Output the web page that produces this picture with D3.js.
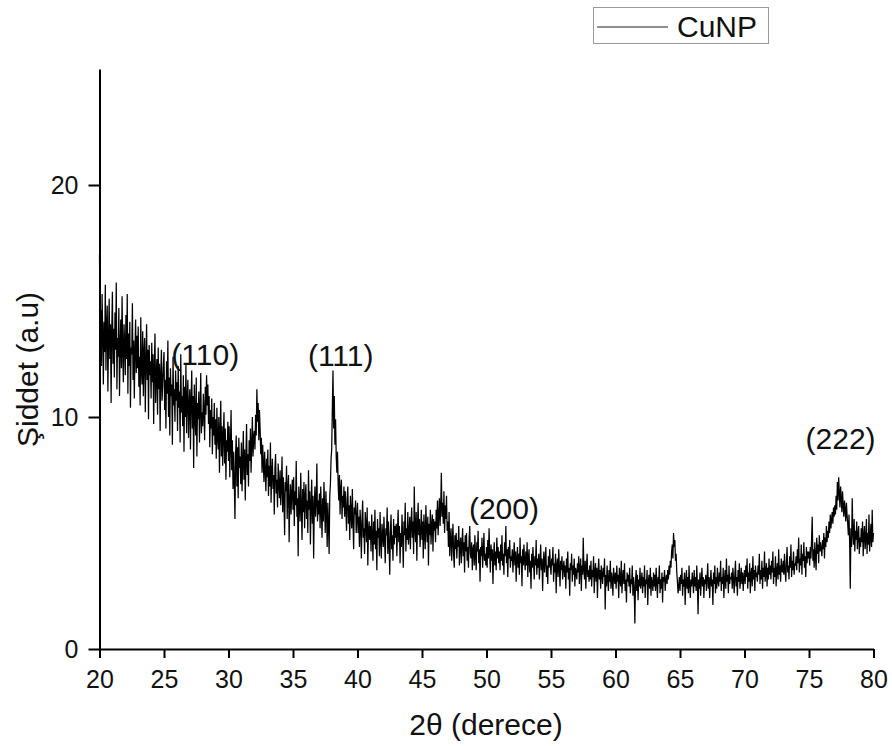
<!DOCTYPE html>
<html>
<head>
<meta charset="utf-8">
<script src="https://cdn.jsdelivr.net/npm/d3@7"></script>
<style>
  body { margin: 0; background: #fff; }
  svg text { font-family: "Liberation Sans", Arial, sans-serif; }
</style>
</head>
<body>
<div id="chart"></div>
<script>
// XRD scan, 2theta from 20 to 80, step 0.05 degree
const startAngle = 20, stepAngle = 0.05;

// intensity readings, one row per degree (20 readings each)
const seg20 = [
  17.0, 13.1, 14.6, 12.2, 15.3, 13.6, 11.4, 14.1, 12.8, 15.7, 12.0, 13.9, 14.8, 11.1, 13.3, 15.1, 12.5, 14.0, 10.6, 13.7,
  15.4, 12.3, 13.8, 11.7, 14.5, 12.9, 15.8, 11.2, 13.4, 12.6, 14.7, 10.9, 13.0, 14.2, 12.1, 15.2, 12.8, 11.5, 14.0, 13.2,
  11.8, 14.4, 12.5, 15.3, 11.0, 13.6, 12.2, 14.1, 10.4, 13.0, 12.7, 14.9, 11.6, 13.3, 10.8, 12.9, 14.2, 11.9, 13.5, 12.1,
  13.9, 11.3, 12.6, 10.5, 14.3, 12.0, 11.4, 13.7, 10.9, 12.8, 13.4, 10.2, 12.3, 14.0, 11.6, 12.9, 9.9, 13.1, 11.8, 12.4,
  10.8, 13.2, 11.5, 12.7, 9.7, 12.1, 13.6, 10.6, 11.9, 12.5, 10.1, 13.0, 11.2, 12.3, 9.4, 11.8, 12.9, 10.7, 11.4, 12.2,
  12.8, 10.3, 11.6, 9.5, 12.4, 11.0, 13.3, 10.0, 11.7, 9.2, 12.1, 10.9, 11.4, 8.8, 12.6, 10.5, 11.2, 9.8, 12.0, 10.7,
  11.5, 9.4, 12.2, 10.4, 11.1, 8.9, 12.7, 10.2, 10.9, 9.6, 11.8, 8.5, 11.3, 10.0, 12.3, 9.3, 10.8, 11.6, 9.1, 10.5,
  11.2, 8.6, 10.7, 12.0, 9.5, 10.9, 7.8, 11.4, 10.1, 9.2, 11.7, 8.3, 10.6, 9.9, 11.1, 8.9, 10.4, 11.9, 9.3, 10.2,
  9.6, 11.0, 10.2, 9.0, 11.3, 10.1, 11.8, 10.5, 11.4, 9.7, 10.9, 8.7, 10.3, 9.5, 10.8, 8.4, 10.0, 9.2, 10.6, 8.8,
  9.9, 8.2, 10.4, 9.1, 8.6, 10.0, 7.6, 9.4, 10.7, 8.3, 9.6, 7.9, 9.2, 10.2, 8.0, 9.5, 7.3, 9.0, 8.5, 9.8
];
const seg30 = [
  8.1, 9.6, 7.4, 8.8, 10.3, 7.7, 9.0, 6.9, 8.5, 7.2, 5.6, 8.4, 9.2, 7.0, 8.7, 6.5, 9.1, 7.8, 8.3, 7.1,
  8.9, 6.8, 8.0, 9.4, 7.3, 8.6, 6.4, 8.2, 9.7, 7.5, 8.4, 7.0, 9.0, 8.1, 9.5, 7.6, 8.8, 10.0, 8.3, 9.1,
  9.4, 8.6, 10.1, 9.2, 11.2, 9.8, 10.6, 9.0, 10.3, 9.5, 8.4, 9.1, 7.6, 8.8, 8.0, 7.2, 8.5, 7.7, 6.8, 8.2,
  7.4, 8.6, 6.6, 7.9, 7.0, 8.9, 6.3, 7.6, 8.2, 6.9, 7.5, 5.8, 7.8, 8.4, 6.7, 7.3, 6.1, 8.0, 7.1, 6.5,
  7.7, 6.2, 7.0, 8.3, 5.9, 7.4, 6.5, 4.9, 7.2, 6.8, 7.9, 5.6, 6.9, 7.5, 4.6, 6.4, 7.1, 5.8, 6.7, 7.3,
  6.0, 7.4, 5.3, 6.8, 6.2, 8.1, 5.7, 6.5, 4.0, 7.0, 6.3, 5.5, 7.6, 6.1, 4.7, 6.9, 5.9, 7.2, 5.2, 6.6,
  7.1, 5.6, 6.4, 5.0, 7.7, 6.0, 6.8, 4.5, 6.2, 7.3, 5.4, 6.6, 3.9, 6.1, 7.0, 5.7, 6.3, 8.0, 5.5, 6.4,
  5.8, 6.7, 5.2, 7.0, 6.0, 4.8, 6.5, 5.5, 7.2, 6.1, 5.0, 6.8, 5.9, 4.4, 6.3, 5.4, 4.1, 6.6, 7.1, 8.2,
  8.6, 10.4, 12.0, 9.5, 10.9, 8.8, 9.9, 8.3, 7.6, 8.5, 7.1, 6.4, 7.5, 5.8, 6.9, 7.3, 5.6, 6.6, 6.1, 7.0,
  5.7, 6.8, 6.0, 5.1, 6.5, 7.0, 5.4, 6.2, 4.7, 6.6, 5.9, 5.2, 6.9, 5.5, 4.3, 6.1, 5.8, 6.4, 5.0, 5.6
];
const seg40 = [
  6.3, 5.0, 5.7, 4.4, 6.0, 5.3, 3.9, 5.6, 6.4, 4.8, 5.2, 4.1, 5.9, 5.4, 4.6, 6.1, 3.6, 5.1, 5.5, 4.7,
  5.3, 4.2, 5.8, 4.9, 3.8, 5.5, 4.5, 6.0, 4.3, 5.1, 3.4, 5.6, 4.8, 5.2, 4.0, 5.9, 4.6, 3.9, 5.4, 4.9,
  4.4, 5.7, 4.7, 3.7, 5.2, 4.9, 6.1, 4.1, 5.5, 4.6, 3.2, 5.0, 5.8, 4.3, 4.9, 3.8, 5.6, 4.5, 5.3, 4.8,
  5.4, 4.0, 5.1, 6.0, 4.6, 5.3, 3.7, 5.0, 4.4, 5.8, 4.8, 3.5, 5.5, 4.9, 6.3, 4.2, 5.2, 4.7, 5.9, 4.5,
  5.0, 5.7, 4.3, 5.4, 6.1, 4.8, 5.5, 4.1, 7.0, 5.2, 4.6, 5.9, 3.8, 5.3, 6.3, 4.9, 5.6, 4.4, 5.1, 6.0,
  4.7, 5.5, 3.9, 5.8, 5.0, 4.3, 6.2, 5.2, 4.6, 5.7, 3.6, 5.4, 4.9, 6.0, 4.5, 5.3, 5.8, 4.2, 5.6, 5.1,
  5.5, 4.6, 6.0, 5.2, 6.4, 4.9, 5.8, 6.5, 5.3, 6.1, 7.6, 5.7, 6.3, 5.4, 6.8, 5.0, 6.2, 5.6, 6.6, 5.1,
  5.5, 4.4, 5.9, 4.0, 4.8, 5.2, 3.8, 4.6, 5.4, 4.1, 3.5, 4.9, 4.3, 5.0, 3.9, 4.7, 4.4, 5.3, 3.6, 4.5,
  4.8, 3.7, 4.5, 5.2, 4.0, 4.6, 3.3, 4.9, 4.2, 5.0, 3.8, 4.4, 3.5, 4.7, 5.3, 4.1, 3.9, 4.6, 3.4, 4.3,
  4.5, 3.6, 4.9, 4.0, 3.4, 4.6, 4.2, 5.1, 3.7, 4.3, 2.9, 4.4, 4.0, 4.8, 3.5, 4.2, 5.0, 3.8, 4.1, 3.6
];
const seg50 = [
  4.4, 3.5, 4.7, 3.9, 5.2, 4.1, 3.3, 4.5, 3.8, 4.3, 2.8, 4.0, 4.6, 3.6, 4.2, 3.4, 4.8, 3.9, 4.4, 3.7,
  4.2, 3.4, 4.5, 3.8, 4.9, 3.6, 4.1, 3.2, 4.6, 4.0, 5.3, 3.7, 4.3, 3.1, 4.4, 3.9, 4.7, 3.5, 4.0, 3.8,
  4.3, 3.3, 4.0, 4.6, 3.6, 4.2, 2.9, 3.9, 4.4, 3.5, 4.1, 3.2, 4.8, 3.7, 4.0, 2.7, 4.3, 3.6, 4.5, 3.8,
  3.4, 4.2, 3.6, 4.6, 3.1, 3.9, 4.3, 3.3, 3.8, 2.6, 4.1, 3.5, 4.4, 3.7, 3.0, 4.0, 3.6, 4.7, 3.2, 3.9,
  3.5, 4.1, 3.0, 3.8, 4.5, 3.4, 3.9, 2.5, 3.7, 4.2, 3.3, 3.8, 4.4, 3.1, 3.6, 2.8, 4.0, 3.5, 4.3, 3.6,
  3.2, 3.9, 3.6, 4.4, 2.9, 3.7, 3.3, 4.1, 2.4, 3.6, 3.9, 3.1, 4.3, 3.5, 2.7, 3.8, 3.4, 4.0, 3.0, 3.5,
  3.8, 3.1, 3.6, 2.6, 3.9, 3.3, 4.2, 3.0, 3.5, 2.3, 3.7, 3.4, 4.1, 2.9, 3.6, 3.2, 3.9, 2.7, 3.5, 3.3,
  3.0, 3.7, 3.3, 4.0, 2.8, 3.5, 3.9, 2.5, 3.6, 3.2, 4.8, 3.4, 3.0, 3.8, 2.6, 3.5, 4.1, 3.1, 3.4, 2.9,
  3.6, 3.0, 3.8, 2.7, 3.4, 3.1, 4.0, 2.4, 3.3, 3.7, 2.9, 3.5, 2.2, 3.3, 3.9, 3.0, 3.4, 2.6, 3.6, 3.2,
  2.8, 3.5, 3.1, 3.9, 1.7, 3.2, 2.7, 3.6, 3.0, 2.5, 3.4, 2.9, 3.8, 2.6, 3.3, 3.0, 2.3, 3.5, 3.1, 2.8
];
const seg60 = [
  3.3, 2.6, 3.6, 2.9, 3.2, 2.2, 3.5, 3.0, 2.7, 3.8, 2.4, 3.1, 3.4, 2.8, 3.7, 2.5, 3.0, 2.0, 3.3, 2.9,
  3.2, 2.7, 3.5, 2.4, 3.0, 2.8, 3.6, 2.3, 3.1, 2.6, 1.1, 2.9, 3.4, 2.5, 3.2, 2.1, 3.0, 2.7, 3.5, 2.6,
  2.9, 3.3, 2.4, 3.1, 2.7, 3.6, 2.2, 3.0, 2.8, 3.4, 1.9, 2.9, 3.2, 2.6, 3.5, 2.3, 3.1, 2.8, 2.5, 3.3,
  2.7, 3.2, 2.5, 3.5, 2.9, 2.2, 3.1, 2.8, 3.6, 2.4, 3.0, 2.6, 3.3, 2.0, 3.1, 2.9, 3.4, 2.5, 3.0, 3.2,
  2.8, 3.4, 3.0, 3.6, 3.2, 3.8, 3.5, 4.2, 4.5, 3.9, 5.0, 4.4, 4.7, 3.8, 4.1, 3.3, 2.9, 2.4, 2.7, 3.1,
  2.5, 3.2, 2.8, 3.5, 2.3, 3.0, 2.7, 3.3, 1.9, 2.9, 3.4, 2.6, 3.1, 2.4, 3.6, 2.8, 2.2, 3.0, 2.7, 3.3,
  2.9, 2.4, 3.4, 2.7, 3.1, 2.5, 3.6, 2.8, 1.5, 3.0, 2.6, 3.3, 2.3, 2.9, 3.5, 2.7, 3.1, 2.2, 3.0, 2.8,
  3.2, 2.5, 3.0, 3.7, 2.6, 3.1, 2.2, 2.9, 3.4, 2.7, 3.0, 1.9, 3.3, 2.8, 3.6, 2.4, 3.1, 2.6, 3.5, 2.9,
  2.7, 3.3, 2.9, 3.8, 2.5, 3.1, 2.8, 3.5, 2.2, 3.0, 3.4, 2.6, 3.9, 2.9, 3.2, 2.4, 3.6, 2.8, 3.1, 3.0,
  3.3, 2.6, 3.5, 3.0, 2.4, 3.2, 3.8, 2.7, 3.1, 2.3, 3.4, 2.9, 3.7, 2.6, 3.0, 3.5, 2.8, 3.3, 2.5, 3.1
];
const seg70 = [
  3.4, 2.8, 3.6, 3.1, 3.9, 2.6, 3.3, 2.9, 3.7, 2.4, 3.2, 3.5, 2.7, 4.0, 3.0, 3.4, 2.5, 3.6, 3.1, 3.3,
  2.9, 3.6, 3.2, 4.1, 2.8, 3.4, 3.0, 3.8, 2.6, 3.5, 3.1, 4.2, 2.9, 3.3, 3.7, 2.7, 3.5, 3.0, 3.9, 3.2,
  3.6, 3.0, 3.8, 3.3, 4.2, 2.8, 3.5, 3.1, 4.0, 2.7, 3.4, 3.7, 3.0, 4.3, 3.2, 3.6, 2.9, 3.9, 3.4, 3.3,
  3.8, 3.2, 4.1, 3.4, 2.9, 3.7, 4.4, 3.3, 3.6, 3.0, 4.0, 3.5, 4.5, 3.1, 3.8, 3.4, 4.2, 3.2, 3.7, 3.6,
  4.0, 3.4, 4.3, 3.7, 4.8, 3.3, 3.9, 3.6, 4.5, 3.2, 4.1, 3.8, 4.6, 3.5, 4.0, 3.1, 4.4, 3.7, 4.2, 3.9,
  4.2, 3.6, 4.4, 3.9, 4.7, 5.7, 3.8, 4.3, 3.5, 4.6, 4.0, 3.4, 4.8, 4.1, 4.5, 3.7, 4.9, 4.2, 4.6, 4.3,
  4.0, 4.7, 4.3, 5.0, 3.9, 4.8, 4.4, 5.3, 4.6, 5.1, 4.8, 5.5, 5.0, 5.8, 5.2, 5.6, 5.9, 5.4, 6.1, 5.7,
  6.2, 5.8, 6.6, 6.0, 7.2, 6.4, 7.4, 6.7, 6.1, 7.0, 6.5, 5.9, 6.8, 6.2, 5.7, 6.4, 6.0, 5.5, 6.3, 5.8,
  5.4, 4.9, 5.8, 4.6, 2.6, 5.2, 4.4, 6.5, 5.0, 4.5, 5.6, 4.2, 5.1, 4.7, 5.5, 4.3, 4.9, 5.3, 4.1, 4.8,
  4.4, 5.2, 4.6, 5.5, 4.0, 4.9, 5.3, 4.3, 4.7, 5.6, 4.1, 5.0, 4.5, 5.8, 4.2, 4.8, 5.4, 4.4, 6.0, 4.6,
  5.0
];
const intensity = [...seg20, ...seg30, ...seg40, ...seg50, ...seg60, ...seg70];

// peak labels (centre angle, baseline intensity)
const peakLabels = ["(110)", "(111)", "(200)", "(222)"];
const peakPos = [28.2, 38.7, 51.35, 77.45];
const peakLabelY = [12.25, 12.2, 5.6, 8.6];

const xMajor = [20, 25, 30, 35, 40, 45, 50, 55, 60, 65, 70, 75, 80];
const xMinor = [22.5, 27.5, 32.5, 37.5, 42.5, 47.5, 52.5, 57.5, 62.5, 67.5, 72.5, 77.5];
const yMajor = [0, 10, 20];
const yMinor = [5, 15, 25];

const seriesName = "CuNP";

const width = 892, height = 746;
const margin = { top: 69, right: 18.5, bottom: 97, left: 99.5 };

const data = intensity.map((v, i) => ({ t: startAngle + i * stepAngle, v: v }));

const svg = d3.select("#chart").append("svg")
  .attr("width", width)
  .attr("height", height);

const x = d3.scaleLinear().domain([20, 80]).range([margin.left, width - margin.right]);
const y = d3.scaleLinear().domain([0, 25]).range([height - margin.bottom, margin.top]);

// trace
const line = d3.line().x(d => x(d.t)).y(d => y(d.v));
svg.append("path")
  .datum(data)
  .attr("fill", "none")
  .attr("stroke", "#000")
  .attr("stroke-width", 1.25)
  .attr("stroke-linejoin", "miter")
  .attr("d", line);

// axes
const gx = svg.append("g").attr("transform", `translate(0,${y(0)})`);
gx.call(d3.axisBottom(x).tickValues(xMinor).tickSize(5).tickSizeOuter(0).tickFormat(""));
gx.call(d3.axisBottom(x).tickValues(xMajor).tickSize(9).tickSizeOuter(0).tickPadding(12));

const gy = svg.append("g").attr("transform", `translate(${x(20)},0)`);
gy.call(d3.axisLeft(y).tickValues(yMinor).tickSize(6).tickSizeOuter(0).tickFormat(""));
gy.call(d3.axisLeft(y).tickValues(yMajor).tickSize(11).tickSizeOuter(0).tickPadding(10));

svg.selectAll(".domain").attr("stroke-width", 2);
svg.selectAll(".tick line").attr("stroke-width", 2);
svg.selectAll(".tick text").attr("font-size", 25).attr("fill", "#111");

// axis titles
svg.append("text")
  .attr("x", 486)
  .attr("y", 735)
  .attr("text-anchor", "middle")
  .attr("font-size", 30)
  .attr("fill", "#111")
  .text("2θ (derece)");

svg.append("text")
  .attr("transform", `translate(38,${y(12.05)}) rotate(-90)`)
  .attr("text-anchor", "middle")
  .attr("font-size", 30)
  .attr("fill", "#111")
  .text("Şiddet (a.u)");

// peak annotations
svg.selectAll("text.peak")
  .data(peakLabels)
  .join("text")
  .attr("class", "peak")
  .attr("x", (d, i) => x(peakPos[i]))
  .attr("y", (d, i) => y(peakLabelY[i]))
  .attr("text-anchor", "middle")
  .attr("font-size", 30)
  .attr("fill", "#111")
  .text(d => d);

// legend
const lg = svg.append("g");
lg.append("rect")
  .attr("x", 593.5).attr("y", 7.5)
  .attr("width", 175).attr("height", 36)
  .attr("fill", "#fff")
  .attr("stroke", "#999");
lg.append("line")
  .attr("x1", 597).attr("x2", 668)
  .attr("y1", 27).attr("y2", 27)
  .attr("stroke", "#222").attr("stroke-width", 1);
lg.append("text")
  .attr("x", 677).attr("y", 37)
  .attr("font-size", 30)
  .attr("fill", "#111")
  .text(seriesName);
</script>
</body>
</html>
